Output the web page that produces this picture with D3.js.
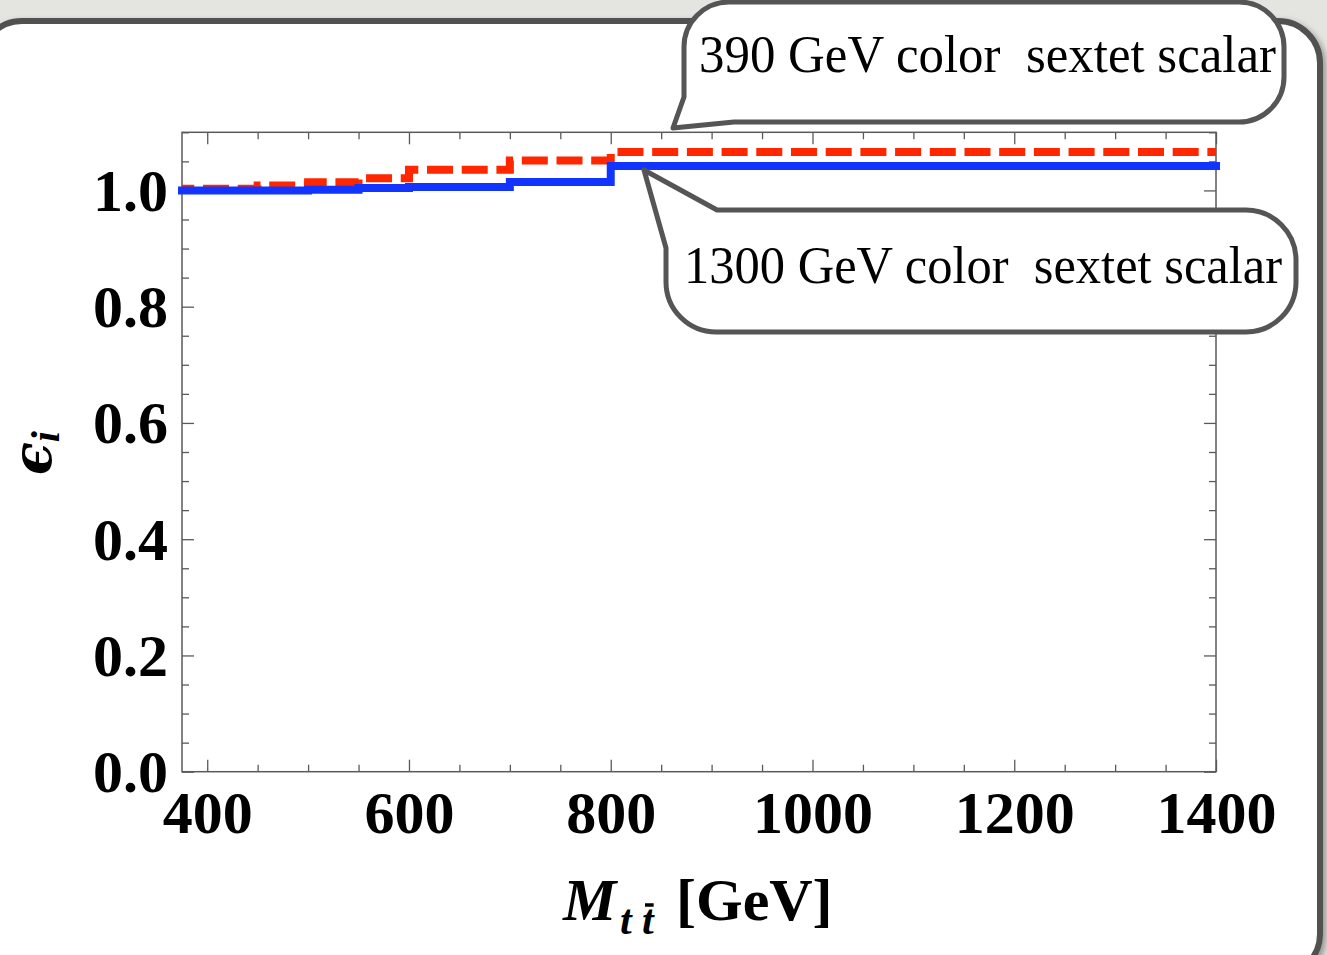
<!DOCTYPE html>
<html>
<head>
<meta charset="utf-8">
<script src="https://cdn.jsdelivr.net/npm/d3@7"></script>
<style>
  html, body { margin: 0; padding: 0; background: #e4e4e0; }
  svg { display: block; }
</style>
</head>
<body>
<svg id="chart" width="1327" height="955"></svg>
<script>
// Bin edges of the t-tbar invariant mass (GeV) and the step values per bin
const binEdges = [375, 450, 500, 550, 600, 700, 800, 1400];
const eps390   = [1.003, 1.0085, 1.014, 1.021, 1.0355, 1.0515, 1.066];
const eps1300  = [1.000, 1.000, 1.001, 1.004, 1.0057, 1.0145, 1.042];

const xMajorTicks = [400, 600, 800, 1000, 1200, 1400];
const yMajorTicks = [0.0, 0.2, 0.4, 0.6, 0.8, 1.0];
const calloutLabels = ["390 GeV color  sextet scalar", "1300 GeV color  sextet scalar"];

const W = 1327, H = 955;
const plot = { left: 182, right: 1216, top: 132.3, bottom: 771.7 };

const svg = d3.select("#chart");

// ---- page background and framed panel ----
const defs = svg.append("defs");
const sh = defs.append("filter").attr("id", "panelShadow")
  .attr("x", "-5%").attr("y", "-5%").attr("width", "110%").attr("height", "110%");
sh.append("feDropShadow").attr("dx", 3).attr("dy", 3).attr("stdDeviation", 3)
  .attr("flood-color", "#000").attr("flood-opacity", 0.35);

svg.append("rect").attr("width", W).attr("height", H).attr("fill", "#e4e4e0");

svg.append("rect")
  .attr("x", -20).attr("y", 21).attr("width", 1340).attr("height", 955)
  .attr("rx", 42).attr("ry", 42)
  .attr("fill", "#fff").attr("stroke", "#515151").attr("stroke-width", 6)
  .attr("filter", "url(#panelShadow)");

// ---- scales ----
const x = d3.scaleLinear().domain([375, 1400]).range([plot.left, plot.right]);
const y = d3.scaleLinear().domain([0, 1.1]).range([plot.bottom, plot.top]);

const xMinor = d3.range(400, 1401, 50).filter(v => !xMajorTicks.includes(v));
const yMinor = d3.range(0, 1.1001, 0.05).map(v => +v.toFixed(2))
  .filter(v => !yMajorTicks.some(m => Math.abs(m - v) < 1e-6));

const tickColor = "#5a5a5a";
const labelFont = "'Liberation Serif', 'Times New Roman', serif";

function styleAxis(g) {
  g.select(".domain").remove();
  g.selectAll(".tick line").attr("stroke", tickColor).attr("stroke-width", 1.3);
}

// bottom axis: major ticks with labels, minor ticks without
svg.append("g").attr("transform", `translate(0,${plot.bottom})`)
  .call(d3.axisBottom(x).tickValues(xMajorTicks).tickSize(-12).tickPadding(18.5)
    .tickFormat(d3.format("d")))
  .call(styleAxis)
  .call(g => g.selectAll("text")
    .attr("font-family", labelFont).attr("font-weight", "bold")
    .attr("font-size", 60).attr("fill", "#000"));
svg.append("g").attr("transform", `translate(0,${plot.bottom})`)
  .call(d3.axisBottom(x).tickValues(xMinor).tickSize(-7).tickFormat(""))
  .call(styleAxis);

// top axis: ticks only
svg.append("g").attr("transform", `translate(0,${plot.top})`)
  .call(d3.axisTop(x).tickValues(xMajorTicks).tickSize(-12).tickFormat(""))
  .call(styleAxis);
svg.append("g").attr("transform", `translate(0,${plot.top})`)
  .call(d3.axisTop(x).tickValues(xMinor).tickSize(-7).tickFormat(""))
  .call(styleAxis);

// left axis
svg.append("g").attr("transform", `translate(${plot.left},0)`)
  .call(d3.axisLeft(y).tickValues(yMajorTicks).tickSize(-12).tickPadding(14)
    .tickFormat(d3.format(".1f")))
  .call(styleAxis)
  .call(g => g.selectAll("text")
    .attr("font-family", labelFont).attr("font-weight", "bold")
    .attr("font-size", 60).attr("fill", "#000").attr("dy", "0.33em"));
svg.append("g").attr("transform", `translate(${plot.left},0)`)
  .call(d3.axisLeft(y).tickValues(yMinor).tickSize(-7).tickFormat(""))
  .call(styleAxis);

// right axis: ticks only
svg.append("g").attr("transform", `translate(${plot.right},0)`)
  .call(d3.axisRight(y).tickValues(yMajorTicks).tickSize(-12).tickFormat(""))
  .call(styleAxis);
svg.append("g").attr("transform", `translate(${plot.right},0)`)
  .call(d3.axisRight(y).tickValues(yMinor).tickSize(-7).tickFormat(""))
  .call(styleAxis);

// plot frame
svg.append("rect")
  .attr("x", plot.left).attr("y", plot.top)
  .attr("width", plot.right - plot.left).attr("height", plot.bottom - plot.top)
  .attr("fill", "none").attr("stroke", tickColor).attr("stroke-width", 1.5);

// ---- step curves ----
const stepLine = d3.line().x(d => x(d[0])).y(d => y(d[1])).curve(d3.curveStepAfter);
const toSteps = vals => binEdges.map((e, i) => [e, vals[Math.min(i, vals.length - 1)]]);

svg.append("path").datum(toSteps(eps390))
  .attr("d", stepLine)
  .attr("fill", "none").attr("stroke", "#ff2600").attr("stroke-width", 8)
  .attr("stroke-dasharray", "26 8.7").attr("stroke-dashoffset", 13.7)
  .attr("stroke-linecap", "butt");

svg.append("path").datum(toSteps(eps1300))
  .attr("d", stepLine)
  .attr("fill", "none").attr("stroke", "#1234ff").attr("stroke-width", 8)
  .attr("stroke-linecap", "square").attr("stroke-linejoin", "miter");

// ---- axis titles ----
const xTitle = svg.append("text")
  .attr("y", 920)
  .attr("font-family", labelFont).attr("font-weight", "bold")
  .attr("font-size", 60).attr("fill", "#000");
xTitle.append("tspan").attr("x", 563).attr("font-style", "italic").text("M");
xTitle.append("tspan").attr("x", 620).attr("y", 934)
  .attr("font-style", "italic").attr("font-size", 42).text("t");
xTitle.append("tspan").attr("x", 642).attr("y", 934)
  .attr("font-style", "italic").attr("font-size", 42).text("t");
xTitle.append("tspan").attr("x", 676).attr("y", 920).text("[GeV]");

// bar over the second t of the subscript
{
  const ext = xTitle.node().getExtentOfChar(2);
  svg.append("line")
    .attr("x1", ext.x + 3).attr("x2", ext.x + ext.width)
    .attr("y1", 905).attr("y2", 905)
    .attr("stroke", "#000").attr("stroke-width", 3.5);
}

const yTitle = svg.append("text")
  .attr("transform", "translate(51,453) rotate(-90)")
  .attr("text-anchor", "middle")
  .attr("font-family", "'DejaVu Serif', 'Liberation Serif', serif").attr("font-weight", "bold")
  .attr("font-style", "italic").attr("font-size", 54).attr("fill", "#000");
yTitle.append("tspan").text("\u03F5");
yTitle.append("tspan").attr("font-family", labelFont).attr("font-size", 40)
  .attr("dy", 8).text("i");

// ---- callout balloons ----
const calloutStroke = "#555";

function balloonBottomLeftTail(b) {
  const { x0, y0, x1, y1, r, baseX, tipX, tipY, sideY } = b;
  return `M${x0},${y0 + r} A${r},${r} 0 0 1 ${x0 + r},${y0}` +
    ` L${x1 - r},${y0} A${r},${r} 0 0 1 ${x1},${y0 + r}` +
    ` L${x1},${y1 - r} A${r},${r} 0 0 1 ${x1 - r},${y1}` +
    ` L${baseX},${y1} L${tipX},${tipY} L${x0},${sideY} Z`;
}
function balloonTopLeftTail(b) {
  const { x0, y0, x1, y1, r, baseX, tipX, tipY, sideY } = b;
  return `M${baseX},${y0} L${x1 - r},${y0} A${r},${r} 0 0 1 ${x1},${y0 + r}` +
    ` L${x1},${y1 - r} A${r},${r} 0 0 1 ${x1 - r},${y1}` +
    ` L${x0 + r},${y1} A${r},${r} 0 0 1 ${x0},${y1 - r}` +
    ` L${x0},${sideY} L${tipX},${tipY} Z`;
}

const balloon390 = { x0: 684, y0: 2, x1: 1284, y1: 122, r: 45,
  baseX: 734, tipX: 673, tipY: 128, sideY: 97 };
const balloon1300 = { x0: 666, y0: 210, x1: 1296, y1: 332, r: 50,
  baseX: 717, tipX: 644, tipY: 170, sideY: 248 };

svg.append("path").attr("d", balloonBottomLeftTail(balloon390))
  .attr("fill", "#fff").attr("stroke", calloutStroke).attr("stroke-width", 5)
  .attr("stroke-linejoin", "round");
svg.append("path").attr("d", balloonTopLeftTail(balloon1300))
  .attr("fill", "#fff").attr("stroke", calloutStroke).attr("stroke-width", 5)
  .attr("stroke-linejoin", "round");

svg.append("text")
  .attr("x", 699).attr("y", 72)
  .attr("font-family", labelFont).attr("font-size", 52).attr("fill", "#000")
  .attr("textLength", 577).attr("lengthAdjust", "spacingAndGlyphs")
  .style("white-space", "pre")
  .text(calloutLabels[0]);
svg.append("text")
  .attr("x", 684).attr("y", 283)
  .attr("font-family", labelFont).attr("font-size", 52).attr("fill", "#000")
  .attr("textLength", 598).attr("lengthAdjust", "spacingAndGlyphs")
  .style("white-space", "pre")
  .text(calloutLabels[1]);
</script>
</body>
</html>
